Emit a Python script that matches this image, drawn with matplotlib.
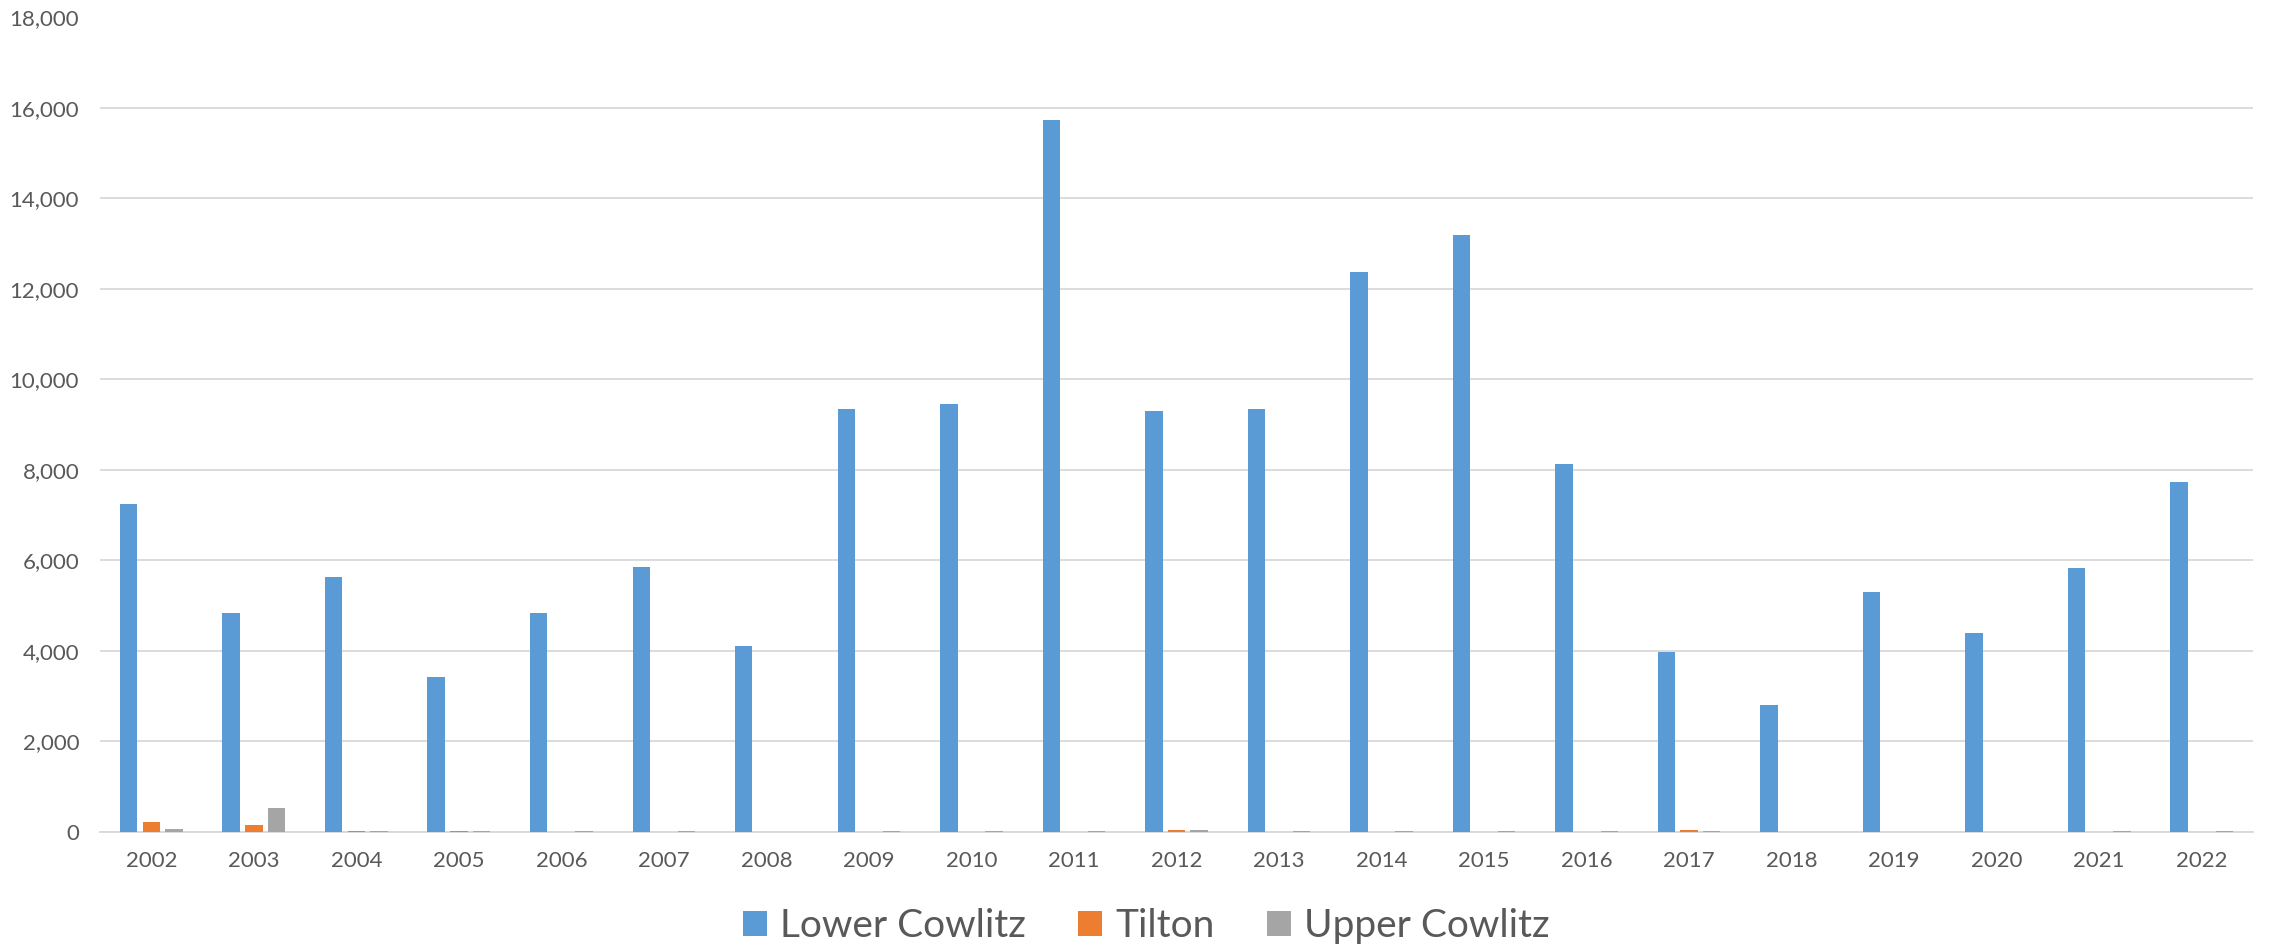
import matplotlib
matplotlib.use("Agg")
import matplotlib.pyplot as plt
import numpy as np
from matplotlib.ticker import FuncFormatter, MultipleLocator

years = [str(y) for y in range(2002, 2023)]
lower_cowlitz = [7250, 4830, 5620, 3420, 4830, 5840, 4100, 9350, 9450, 15740,
                 9300, 9350, 12380, 13180, 8130, 3980, 2800, 5300, 4380, 5830, 7720]
tilton = [200, 140, 5, 8, 0, 0, 0, 0, 0, 0,
          25, 0, 0, 0, 0, 25, 0, 0, 0, 0, 0]
upper_cowlitz = [50, 530, 8, 3, 8, 8, 0, 8, 3, 3,
                 25, 5, 5, 5, 5, 3, 0, 0, 0, 3, 5]

series = [("Lower Cowlitz", lower_cowlitz, "#5B9BD5"),
          ("Tilton", tilton, "#ED7D31"),
          ("Upper Cowlitz", upper_cowlitz, "#A5A5A5")]

plt.rcParams['font.family'] = ['Lato', 'DejaVu Sans']
fig = plt.figure(figsize=(22.72, 9.5), dpi=100)
ax = fig.add_axes([100/2272, 1-831.5/950, (2253-100)/2272, (831.5-17.5)/950])

x = np.arange(len(years))
width = 0.17
step = 0.221
for i, (name, vals, col) in enumerate(series):
    ax.bar(x + (i-1)*step, vals, width, color=col, label=name, zorder=3)

ax.set_xlim(-0.5, len(years)-0.5)
ax.set_ylim(0, 18000)
ax.yaxis.set_major_locator(MultipleLocator(2000))
ax.yaxis.set_major_formatter(FuncFormatter(lambda v, p: f"{int(v):,}"))
ax.set_xticks(x)
ax.set_xticklabels(years)
ax.grid(axis='y', color='#D9D9D9', linewidth=1.3, zorder=0)
for s in ['top', 'right', 'left']:
    ax.spines[s].set_visible(False)
ax.spines['bottom'].set_color('#D9D9D9')
ax.spines['bottom'].set_linewidth(1.3)
ax.tick_params(axis='both', length=0, labelsize=16, labelcolor='#595959')
ax.tick_params(axis='y', pad=15)
ax.tick_params(axis='x', pad=14)

fig.legend(loc='center', bbox_to_anchor=(1146/2272, 1-926/950), ncol=3, frameon=False,
           fontsize=28, handlelength=0.62, handleheight=0.62, handletextpad=0.33,
           columnspacing=1.35, labelcolor='#595959')

fig.savefig("out.png", dpi=100)
